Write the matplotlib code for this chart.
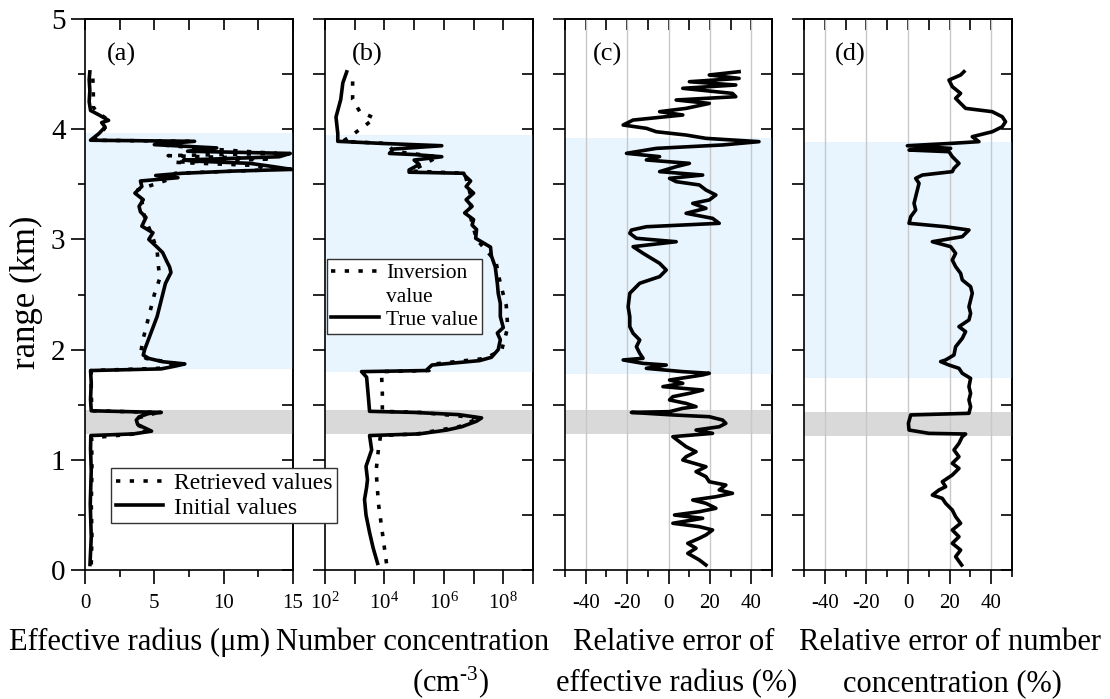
import numpy as np
import matplotlib
matplotlib.use('Agg')
import matplotlib.pyplot as plt
from matplotlib.lines import Line2D
from matplotlib.ticker import FixedLocator, NullFormatter, LogLocator

plt.rcParams['font.family'] = ['Liberation Serif', 'DejaVu Serif']
plt.rcParams['mathtext.fontset'] = 'custom'
plt.rcParams['mathtext.rm'] = 'Liberation Serif'
plt.rcParams['mathtext.it'] = 'Liberation Serif:italic'
plt.rcParams['mathtext.bf'] = 'Liberation Serif:bold'

# ---------------- data ----------------
# (a) effective radius (um)
a_init_h = [0.05, 0.30, 0.60, 0.90, 1.10, 1.22, 1.235, 1.26, 1.29, 1.32, 1.36, 1.39, 1.42, 1.43, 1.445,
            1.55, 1.70, 1.81, 1.825, 1.85, 1.87, 1.89, 1.92, 1.95, 2.00, 2.10, 2.20, 2.30, 2.40, 2.50,
            2.60, 2.70, 2.75, 2.80, 2.88, 2.93, 3.00, 3.06, 3.12, 3.20, 3.25, 3.30, 3.36, 3.42, 3.48,
            3.53, 3.56, 3.58, 3.60, 3.62, 3.635, 3.66, 3.69, 3.71, 3.72, 3.75, 3.78, 3.80, 3.83, 3.86,
            3.89, 3.90, 3.96, 4.02, 4.06, 4.08, 4.13, 4.17, 4.25, 4.35, 4.45, 4.52]
a_init_v = [0.36, 0.45, 0.38, 0.45, 0.40, 0.42, 3.5, 4.8, 4.3, 3.8, 3.7, 3.9, 4.6, 5.5, 0.45,
            0.40, 0.45, 0.40, 5.5, 6.5, 7.2, 5.6, 4.6, 4.2, 4.3, 4.6, 4.9, 5.2, 5.4, 5.6,
            5.8, 6.2, 6.1, 5.9, 5.6, 5.2, 4.6, 4.9, 4.1, 4.4, 4.0, 3.9, 4.2, 3.6, 4.1,
            4.0, 6.7, 5.1, 7.0, 10.7, 14.9, 13.6, 11.9, 8.0, 7.1, 14.0, 14.8, 7.4, 9.5, 5.0,
            7.9, 0.4, 1.0, 1.45, 1.2, 1.7, 1.0, 0.4, 0.3, 0.35, 0.3, 0.35]
a_retr_h = [0.05, 0.30, 0.60, 0.90, 1.20, 1.235, 1.27, 1.32, 1.38, 1.43, 1.445, 1.60, 1.81, 1.83,
            1.87, 1.92, 1.96, 2.10, 2.30, 2.50, 2.65, 2.75, 2.90, 3.05, 3.20, 3.35, 3.45, 3.55,
            3.60, 3.63, 3.67, 3.70, 3.73, 3.76, 3.78, 3.82, 3.86, 3.89, 3.90, 3.97, 4.04, 4.10,
            4.15, 4.20, 4.35, 4.50]
a_retr_v = [0.45, 0.50, 0.45, 0.50, 0.48, 3.6, 4.6, 3.7, 3.8, 5.3, 0.5, 0.45, 0.45, 5.3,
            6.8, 4.4, 4.0, 4.2, 4.6, 5.0, 5.4, 5.3, 5.2, 4.8, 4.3, 4.1, 3.8, 6.2,
            6.5, 13.0, 12.5, 6.4, 13.5, 6.0, 13.8, 9.0, 5.3, 7.5, 0.6, 1.2, 1.6, 1.5,
            0.9, 0.6, 0.6, 0.55]

# (b) number concentration, log10(cm^-3)
b_true_h = [0.06, 0.20, 0.34, 0.50, 0.64, 0.75, 0.82, 0.94, 1.09, 1.22, 1.235, 1.27, 1.30, 1.35,
            1.38, 1.41, 1.43, 1.44, 1.60, 1.75, 1.80, 1.81, 1.86, 1.90, 1.93, 2.00, 2.09, 2.15,
            2.20, 2.30, 2.42, 2.51, 2.60, 2.75, 2.85, 2.93, 3.01, 3.09, 3.13, 3.18, 3.24, 3.30,
            3.36, 3.42, 3.48, 3.53, 3.58, 3.60, 3.61, 3.63, 3.68, 3.72, 3.75, 3.77, 3.78, 3.82,
            3.85, 3.87, 3.89, 3.96, 4.11, 4.27, 4.42, 4.52]
b_true_log = [3.77, 3.62, 3.50, 3.38, 3.33, 3.40, 3.43, 3.38, 3.57, 3.50, 5.17, 6.1, 6.6, 7.1,
              7.27, 6.5, 5.0, 3.50, 3.45, 3.40, 3.23, 5.4, 5.6, 7.2, 7.6, 7.83, 7.9, 7.8,
              8.0, 7.9, 7.9, 7.83, 7.8, 7.73, 7.6, 7.57, 7.07, 7.1, 6.95, 7.0, 6.7, 6.95,
              6.75, 7.0, 6.75, 6.9, 6.7, 6.67, 4.83, 4.83, 5.17, 5.0, 5.93, 5.0, 4.17, 4.3,
              5.93, 4.0, 2.43, 2.43, 2.37, 2.53, 2.60, 2.73]
b_inv_h = [0.06, 0.30, 0.60, 0.90, 1.10, 1.22, 1.235, 1.30, 1.38, 1.43, 1.44, 1.60, 1.80, 1.81,
           1.87, 1.92, 2.00, 2.20, 2.40, 2.60, 2.80, 3.00, 3.20, 3.40, 3.60, 3.62, 3.75, 3.80,
           3.87, 3.89, 3.95, 4.05, 4.10, 4.16, 4.27, 4.42, 4.50]
b_inv_log = [4.07, 3.95, 3.80, 3.72, 3.80, 3.87, 5.1, 6.5, 7.2, 5.2, 3.93, 3.93, 3.90, 5.5,
             5.7, 7.4, 7.95, 8.15, 8.1, 7.9, 7.75, 7.1, 6.9, 6.9, 6.7, 4.9, 5.8, 4.3,
             4.1, 2.6, 2.93, 3.43, 3.67, 3.17, 2.93, 2.93, 2.93]

# (c) relative error of effective radius (%)
c_h = [0.045, 0.091, 0.151, 0.197, 0.242, 0.288, 0.318, 0.363, 0.393, 0.424, 0.469, 0.499, 0.529,
       0.560, 0.605, 0.635, 0.665, 0.696, 0.726, 0.771, 0.801, 0.847, 0.892, 0.937, 0.998, 1.028,
       1.073, 1.119, 1.164, 1.210, 1.240, 1.270, 1.300, 1.331, 1.361, 1.391, 1.407, 1.430, 1.437,
       1.467, 1.482, 1.512, 1.543, 1.573, 1.603, 1.633, 1.664, 1.694, 1.724, 1.770, 1.785, 1.800,
       1.830, 1.860, 1.875, 1.906, 1.921, 1.966, 2.026, 2.087, 2.148, 2.208, 2.299, 2.389, 2.511,
       2.602, 2.662, 2.722, 2.783, 2.874, 2.934, 2.979, 3.010, 3.055, 3.085, 3.115, 3.146, 3.191,
       3.237, 3.282, 3.327, 3.358, 3.403, 3.448, 3.494, 3.524, 3.554, 3.584, 3.615, 3.660, 3.690,
       3.721, 3.751, 3.781, 3.826, 3.857, 3.887, 3.917, 3.947, 3.977, 4.008, 4.038, 4.083, 4.129,
       4.159, 4.189, 4.234, 4.265, 4.295, 4.325, 4.371, 4.401, 4.431, 4.461, 4.492, 4.522]
c_err = [18.1, 14.9, 9.3, 13.3, 9.3, 14.9, 18.1, 21.3, 14.9, 2.1, 16.5, 2.9, 14.9,
         22.9, 18.1, 11.7, 22.9, 30.9, 24.5, 27.7, 19.7, 18.1, 13.3, 18.1, 6.9, 8.5,
         13.3, 8.5, 5.3, 2.1, 21.3, 13.3, 24.5, 27.7, 26.1, 19.7, 2.1, -17.9, 0.5,
         6.9, 13.3, 8.5, 0.5, 2.1, 10.1, 16.5, -2.7, 6.9, 0.5, 16.5, 19.7, 6.9,
         -10.7, -1.1, -12.3, -21.9, -12.3, -13.9, -15.5, -13.9, -17.1, -18.7, -18.7, -19.5, -18.7,
         -13.9, -4.3, -1.1, -4.3, -12.3, -17.1, 3.7, -15.5, -18.7, -17.9, -10.7, 24.5, 21.3,
         8.5, 18.1, 11.7, 19.7, 22.9, 18.1, 14.9, 3.7, 0.5, 16.5, -4.3, 3.7, 10.1,
         -10.7, -4.3, -20.3, -5.9, 26.1, 43.7, 18.1, 8.5, -5.9, -10.7, -21.9, -17.1, 6.9,
         -4.3, 8.5, 19.7, 3.7, 32.5, 30.9, 6.9, 32.5, 10.1, 34.1, 19.7, 34.1]

# (d) relative error of number concentration (%)
d_h = [0.045, 0.121, 0.181, 0.242, 0.302, 0.363, 0.424, 0.484, 0.544, 0.605, 0.650, 0.680, 0.726,
       0.756, 0.801, 0.862, 0.922, 0.968, 1.028, 1.089, 1.149, 1.210, 1.234, 1.240, 1.270, 1.331,
       1.407, 1.422, 1.482, 1.543, 1.603, 1.664, 1.739, 1.785, 1.830, 1.860, 1.891, 1.906, 1.951,
       2.026, 2.102, 2.163, 2.208, 2.269, 2.329, 2.389, 2.450, 2.511, 2.571, 2.632, 2.692, 2.753,
       2.813, 2.874, 2.934, 2.979, 3.025, 3.085, 3.115, 3.146, 3.206, 3.267, 3.327, 3.388, 3.448,
       3.509, 3.554, 3.584, 3.615, 3.645, 3.690, 3.751, 3.796, 3.811, 3.826, 3.850, 3.872, 3.887,
       3.932, 3.977, 4.022, 4.068, 4.113, 4.159, 4.189, 4.234, 4.280, 4.325, 4.386, 4.446, 4.492,
       4.522]
d_err = [25.8, 22.9, 25.3, 21.3, 24.5, 21.3, 25.3, 22.9, 21.3, 18.1, 16.5, 11.7, 14.9,
         18.1, 16.5, 21.3, 24.5, 21.3, 24.5, 22.1, 24.5, 26.1, 27.7, 10.1, 0.5, 0.2,
         1.3, 29.3, 30.1, 29.3, 30.1, 29.3, 30.1, 26.1, 24.5, 19.7, 15.7, 18.1, 22.1,
         22.9, 26.1, 27.7, 24.5, 29.3, 30.1, 29.3, 30.1, 30.9, 30.1, 26.1, 25.3, 22.9,
         21.3, 22.9, 20.5, 11.7, 26.1, 29.3, 18.1, 0.5, 1.3, 3.7, 2.9, 3.7, 4.5,
         5.3, 3.7, 6.9, 21.3, 22.1, 24.5, 21.3, 19.7, 0.5, 20.5, -0.3, 21.3, 34.1,
         30.9, 40.5, 45.3, 46.9, 45.3, 40.5, 27.7, 25.3, 22.9, 25.3, 21.3, 19.7, 25.3,
         26.9]

# shaded layers (km)
blue_layers = [(1.824, 3.968), (1.800, 3.947), (1.778, 3.923), (1.745, 3.887)]
gray_layers = [(1.234, 1.452), (1.234, 1.452), (1.234, 1.452), (1.216, 1.434)]

panel_tags = ['(a)', '(b)', '(c)', '(d)']
b_tick_exps = [2, 3, 4, 5, 6, 7, 8, 9]

# ---------------- figure ----------------
W, H = 1110, 699
fig = plt.figure(figsize=(W / 100, H / 100), dpi=100)


def px_rect(l, r, t, b):
    return [l / W, 1 - b / H, (r - l) / W, (b - t) / H]


rects = [px_rect(85, 293, 19, 570), px_rect(325, 533, 19, 570),
         px_rect(565, 772, 19, 570), px_rect(804, 1012, 19, 570)]
axes = [fig.add_axes(r) for r in rects]

BLUE = '#e8f4fe'
GRAY = '#d9d9d9'
LW = 2.6
DOT = (0, (1.2, 2.6))
SPW = 1.2
tag_pos = [(0.106, 0.935), (0.13, 0.935), (0.135, 0.935), (0.15, 0.935)]

for i, ax in enumerate(axes):
    ax.axhspan(*blue_layers[i], color=BLUE, lw=0, zorder=0.5)
    ax.axhspan(*gray_layers[i], color=GRAY, lw=0, zorder=0.6)
    ax.set_ylim(0, 5)
    for s in ax.spines.values():
        s.set_linewidth(SPW)
    ax.set_yticks(np.arange(0, 5.01, 1))
    ax.set_yticks(np.arange(0.5, 5.0, 1), minor=True)
    ax.tick_params(axis='both', which='both', direction='out', top=False, right=False,
                   width=SPW, color='black')
    ax.tick_params(axis='both', which='major', length=10)
    ax.tick_params(axis='both', which='minor', length=5)
    ax.tick_params(axis='x', labelsize=15, pad=7)
    ax.tick_params(axis='y', labelsize=21, pad=4)
    if i > 0:
        ax.tick_params(axis='y', labelleft=False)
        ax.tick_params(axis='y', which='both', length=9)
    ax.text(tag_pos[i][0], tag_pos[i][1], panel_tags[i], fontsize=19,
            transform=ax.transAxes, ha='left', va='center')

# (a)
ax = axes[0]
l_retr, = ax.plot(a_retr_v, a_retr_h, color='black', lw=LW, linestyle=DOT, zorder=3)
l_init, = ax.plot(a_init_v, a_init_h, color='black', lw=LW, zorder=4, solid_joinstyle='round')
ax.set_xlim(0, 15)
ax.set_xticks([0, 5, 10, 15])
ax.set_xticks([2.5, 7.5, 12.5], minor=True)
top = ax.secondary_xaxis('top')
top.set_xticks(np.arange(0, 15.01, 2.5))
right = ax.secondary_yaxis('right')
right.set_yticks(np.arange(0, 5.01, 0.5))

# (b)
ax = axes[1]
b_inv = [10.0 ** v for v in b_inv_log]
b_true = [10.0 ** v for v in b_true_log]
l_inv, = ax.plot(b_inv, b_inv_h, color='black', lw=LW, linestyle=DOT, zorder=3)
l_true, = ax.plot(b_true, b_true_h, color='black', lw=LW, zorder=4, solid_joinstyle='round')
ax.set_xscale('log')
ax.set_xlim(1e2, 1e9)
ax.xaxis.set_major_locator(FixedLocator([10.0 ** e for e in b_tick_exps]))
ax.set_xticklabels([r'$10^{%d}$' % e if e % 2 == 0 else '' for e in b_tick_exps])
ax.xaxis.set_minor_locator(LogLocator(base=10, subs=np.arange(2, 10)))
ax.xaxis.set_minor_formatter(NullFormatter())
ax.tick_params(axis='x', which='minor', length=4.5)
ax.tick_params(axis='x', labelsize=15, pad=6)
top = ax.secondary_xaxis('top')
top.set_xticks([10.0 ** e for e in b_tick_exps])
right = ax.secondary_yaxis('right')
right.set_yticks(np.arange(0, 5.01, 0.5))

# (c), (d)
for ax, vals, hs in [(axes[2], c_err, c_h), (axes[3], d_err, d_h)]:
    ax.plot(vals, hs, color='black', lw=LW, zorder=4, solid_joinstyle='round')
    ax.set_xlim(-50, 50)
    ax.set_xticks([-40, -20, 0, 20, 40])
    ax.set_xticklabels(['-40', '-20', '0', '20', '40'])
    ax.set_xticks([-50, -30, -10, 10, 30, 50], minor=True)
    ax.grid(axis='x', which='major', color='#c8c8c8', lw=1.0)
    top = ax.secondary_xaxis('top')
    top.set_xticks(np.arange(-50, 50.1, 10))
    right = ax.secondary_yaxis('right')
    right.set_yticks(np.arange(0, 5.01, 0.5))

# style the secondary (mirror) axes: inward ticks, no labels
for ax in axes:
    for child in ax.child_axes:
        for s in child.spines.values():
            s.set_linewidth(SPW)
        child.tick_params(which='major', direction='in', length=8, width=SPW,
                          labeltop=False, labelbottom=False, labelleft=False, labelright=False)
        child.tick_params(which='minor', direction='in', length=4, width=SPW,
                          labeltop=False, labelbottom=False, labelleft=False, labelright=False)

# legends
axes[0].set_zorder(5)
leg_a = axes[0].legend([l_retr, l_init], ['Retrieved values', 'Initial values'],
                       loc='upper left', bbox_to_anchor=(111 / W, 1 - 468 / H),
                       bbox_transform=fig.transFigure, fontsize=17, frameon=True,
                       fancybox=False, edgecolor='#333333', framealpha=1,
                       borderpad=0.2, handlelength=2.0, handletextpad=0.45,
                       labelspacing=0.12, borderaxespad=0)
leg_a.get_frame().set_linewidth(1.0)
leg_a.set_zorder(10)

blank = Line2D([], [], linestyle='none')
leg_b = axes[1].legend([l_inv, blank, l_true], ['Inversion', 'value', 'True value'],
                       loc='upper left', bbox_to_anchor=(327 / W, 1 - 259 / H),
                       bbox_transform=fig.transFigure, fontsize=15.5, frameon=True,
                       fancybox=False, edgecolor='#333333', framealpha=1,
                       borderpad=0.2, handlelength=2.2, handletextpad=0.35,
                       labelspacing=0.15, borderaxespad=0)
leg_b.get_frame().set_linewidth(1.0)
leg_b.set_zorder(10)

# axis titles
fig.text(26 / W, 1 - 292 / H, 'range (km)', rotation=90, fontsize=25,
         ha='center', va='center')
XL = 22
fig.text(140 / W, 1 - 650 / H, 'Effective radius (\u03bcm)', fontsize=XL,
         ha='center', va='baseline')
fig.text(413 / W, 1 - 650 / H, 'Number concentration', fontsize=XL,
         ha='center', va='baseline')
fig.text(450 / W, 1 - 691 / H, r'(cm$^{\text{-}3}$)', fontsize=XL, ha='center', va='baseline')
fig.text(674 / W, 1 - 650 / H, 'Relative error of', fontsize=XL, ha='center', va='baseline')
fig.text(677 / W, 1 - 691 / H, 'effective radius (%)', fontsize=XL, ha='center', va='baseline')
fig.text(950 / W, 1 - 650 / H, 'Relative error of number', fontsize=XL, ha='center',
         va='baseline')
fig.text(952 / W, 1 - 691 / H, 'concentration (%)', fontsize=XL, ha='center', va='baseline')

fig.savefig('out.png', dpi=100)
